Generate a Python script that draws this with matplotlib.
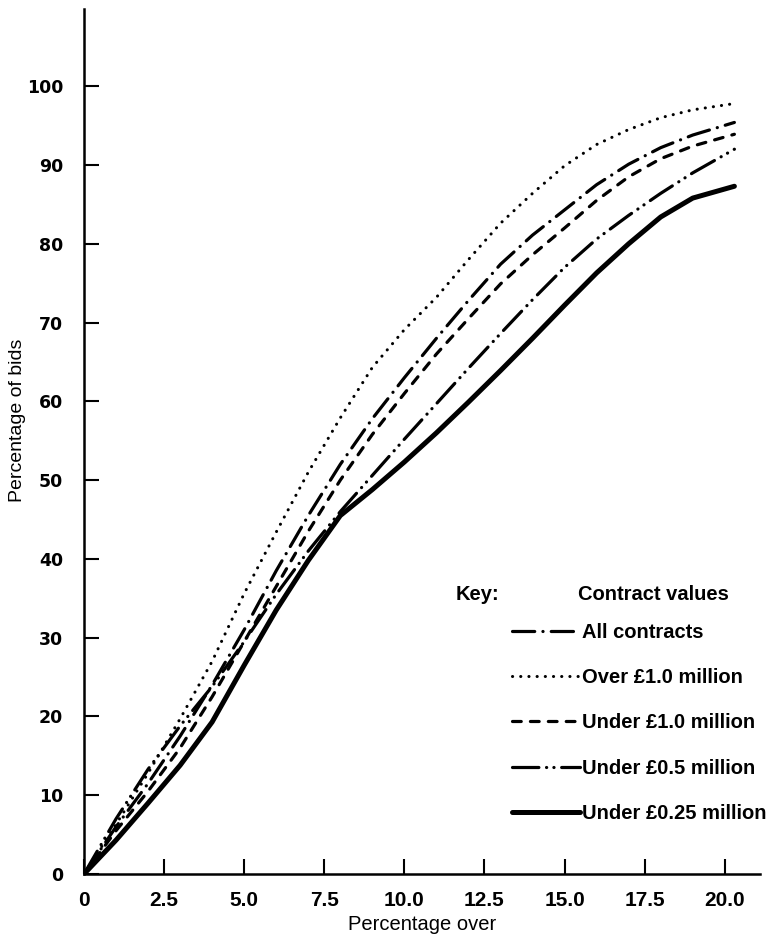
import matplotlib
matplotlib.use("Agg")
import matplotlib.pyplot as plt

plt.rcParams['lines.scale_dashes'] = False

# values
x_pct = [0, 1, 2, 3, 4, 5, 6, 7, 8, 9, 10, 11, 12, 13, 14, 15, 16, 17, 18, 19, 20.3]

all_contracts = [0, 6, 11.5, 17.5, 24, 31, 38.5, 45.5, 52, 57.8, 63, 68, 72.8, 77.4,
                 81.1, 84.3, 87.5, 90.1, 92.2, 93.8, 95.4]
over_1m = [0, 6.3, 12.8, 19.7, 27, 35.6, 43.4, 51, 57.9, 64.3, 69.1, 73.2, 78, 82.6,
           86.4, 89.9, 92.6, 94.5, 96, 97, 97.8]
under_1m = [0, 5.5, 10.5, 16, 22.5, 29.5, 36.5, 43.5, 50, 55.8, 61, 66, 70.5, 74.9,
            78.6, 82, 85.5, 88.5, 90.8, 92.4, 93.9]
under_05m = [0, 7, 13.3, 18.8, 23.8, 29.5, 35.5, 41, 46, 50.6, 55.2, 59.7, 64.2, 68.6,
             72.9, 77, 80.6, 83.6, 86.4, 89, 92]
under_025m = [0, 4.3, 9, 13.8, 19.3, 26.5, 33.5, 39.8, 45.5, 48.8, 52.3, 56, 59.9, 63.9,
              68, 72.2, 76.3, 80, 83.4, 85.8, 87.3]

x_ticks = [0, 2.5, 5.0, 7.5, 10.0, 12.5, 15.0, 17.5, 20.0]
x_tick_labels = ['0', '2.5', '5.0', '7.5', '10.0', '12.5', '15.0', '17.5', '20.0']
y_ticks = [0, 10, 20, 30, 40, 50, 60, 70, 80, 90, 100]

sans = ['Liberation Sans', 'DejaVu Sans']

fig = plt.figure(figsize=(7.67, 9.38), dpi=100)
ax = fig.add_axes([0.1095, 0.0682, 0.8814, 0.9222])

ax.plot(x_pct, all_contracts, color='black', lw=2.3, dash_capstyle='round',
        linestyle=(0, (16, 5.9, 0.1, 5.9)), label='All contracts')
ax.plot(x_pct, over_1m, color='black', lw=2.2, dash_capstyle='round',
        linestyle=(0, (0.1, 5.8)), label='Over £1.0 million')
ax.plot(x_pct, under_1m, color='black', lw=2.3, dash_capstyle='round',
        linestyle=(0, (6.3, 6.6)), label='Under £1.0 million')
ax.plot(x_pct, under_05m, color='black', lw=2.3, dash_capstyle='round',
        linestyle=(0, (19, 5.5, 0.1, 5.2, 0.1, 5.5)), label='Under £0.5 million')
ax.plot(x_pct, under_025m, color='black', lw=3.6, solid_capstyle='round',
        solid_joinstyle='round', label='Under £0.25 million')

ax.set_xlim(0, 21.1)
ax.set_ylim(0, 109.8)
for s in ['top', 'right']:
    ax.spines[s].set_visible(False)
for s in ['left', 'bottom']:
    ax.spines[s].set_linewidth(1.8)

ax.set_xticks(x_ticks)
ax.set_xticklabels(x_tick_labels, family=sans, fontweight='bold', fontsize=15)
ax.set_yticks(y_ticks)
ax.set_yticklabels([str(v) for v in y_ticks], fontweight='bold', fontsize=12.5)
ax.tick_params(axis='x', direction='in', length=11, width=1.5, pad=12)
ax.tick_params(axis='y', direction='in', length=11, width=1.5, pad=15)

ax.set_xlabel('Percentage over', family=sans, fontsize=14.5)
ax.xaxis.set_label_coords(0.5, -0.047)
ax.set_ylabel('Percentage of bids', family=sans, fontsize=14)
ax.yaxis.label.set_va('center')
ax.yaxis.set_label_coords(-0.098, 0.525)

ax.legend(loc='upper left', bbox_to_anchor=(0.606, 0.311), frameon=False,
          handlelength=3.4, handletextpad=0.1, labelspacing=1.3,
          prop={'family': sans, 'weight': 'bold', 'size': 14.5})
ax.text(0.549, 0.3237, 'Key:', transform=ax.transAxes, family=sans,
        fontweight='bold', fontsize=14.5, va='center')
ax.text(0.731, 0.3237, 'Contract values', transform=ax.transAxes, family=sans,
        fontweight='bold', fontsize=14.5, va='center')

plt.savefig('out.png', dpi=100)
